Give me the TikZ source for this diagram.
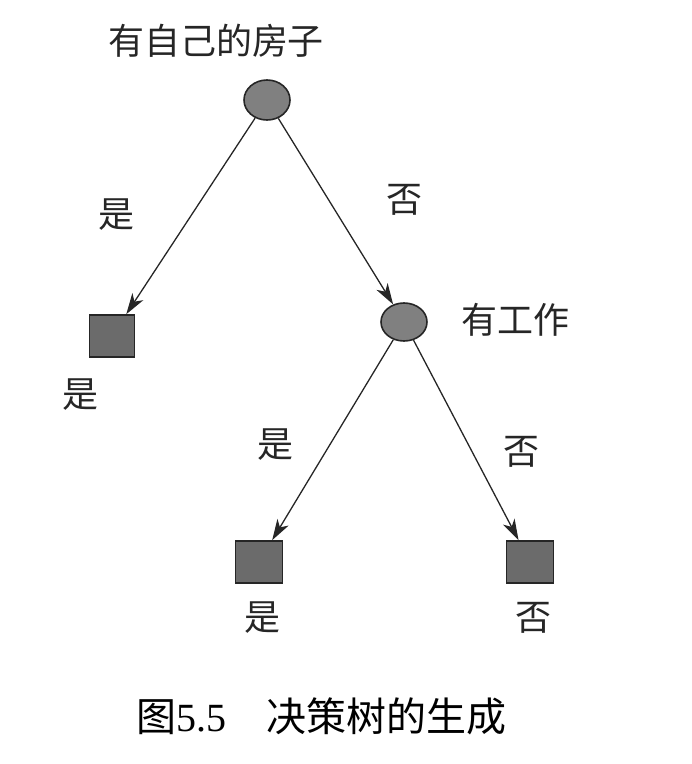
\documentclass[tikz,border=0pt]{standalone}
\usepackage{fontspec}
\newfontfamily\cjk{Noto Sans CJK SC}
\newfontfamily\numfont{Liberation Serif}
\usetikzlibrary{arrows.meta,shapes.geometric}
\begin{document}
\begin{tikzpicture}[x=1pt,y=-1pt,
  lbl/.style={font=\cjk\fontsize{36}{40}\selectfont, text=black!85, inner sep=0pt},
  decision/.style={ellipse, draw=black!85, line width=1.6pt, fill=black!50, minimum width=46pt, minimum height=40pt, inner sep=0pt},
  leafbox/.style={rectangle, draw=black!85, line width=1.6pt, fill=black!58, minimum width=45pt, minimum height=42pt, inner sep=0pt},
  edge/.style={draw=black!85, line width=1.3pt, -{Stealth[length=21pt,width=13pt,inset=6pt]}}
]
\useasboundingbox (0,0) rectangle (692,764);
\node[decision] (root) at (267,100) {};
\node[decision, minimum height=38pt] (work) at (404,322) {};
\node[leafbox] (leafA) at (112,336) {};
\node[leafbox, minimum width=47pt] (leafB) at (259,562) {};
\node[leafbox, minimum width=47pt] (leafC) at (530,562) {};

\node[lbl] (rootlbl) at (216,41) {有自己的房子};
\node[lbl] (worklbl) at (515,320) {有工作};
\node[lbl] (yes1) at (116,215) {是};
\node[lbl] (no1) at (404,200) {否};
\node[lbl] (leafAlbl) at (80,395) {是};
\node[lbl] (yes2) at (275,445) {是};
\node[lbl] (no2) at (521,452) {否};
\node[lbl] (leafBlbl) at (262,618) {是};
\node[lbl] (leafClbl) at (533,618) {否};

\node[inner sep=0pt, anchor=west, font=\fontsize{40}{44}\selectfont, text=black] (caption) at (136,716)
  {{\cjk 图}{\numfont 5.5}\hspace{40pt}{\cjk 决策树的生成}};

\draw[edge] (root) -- (leafA);
\draw[edge] (root) -- (work);
\draw[edge] (work) -- (leafB);
\draw[edge] (work) -- (leafC);
\end{tikzpicture}
\end{document}
